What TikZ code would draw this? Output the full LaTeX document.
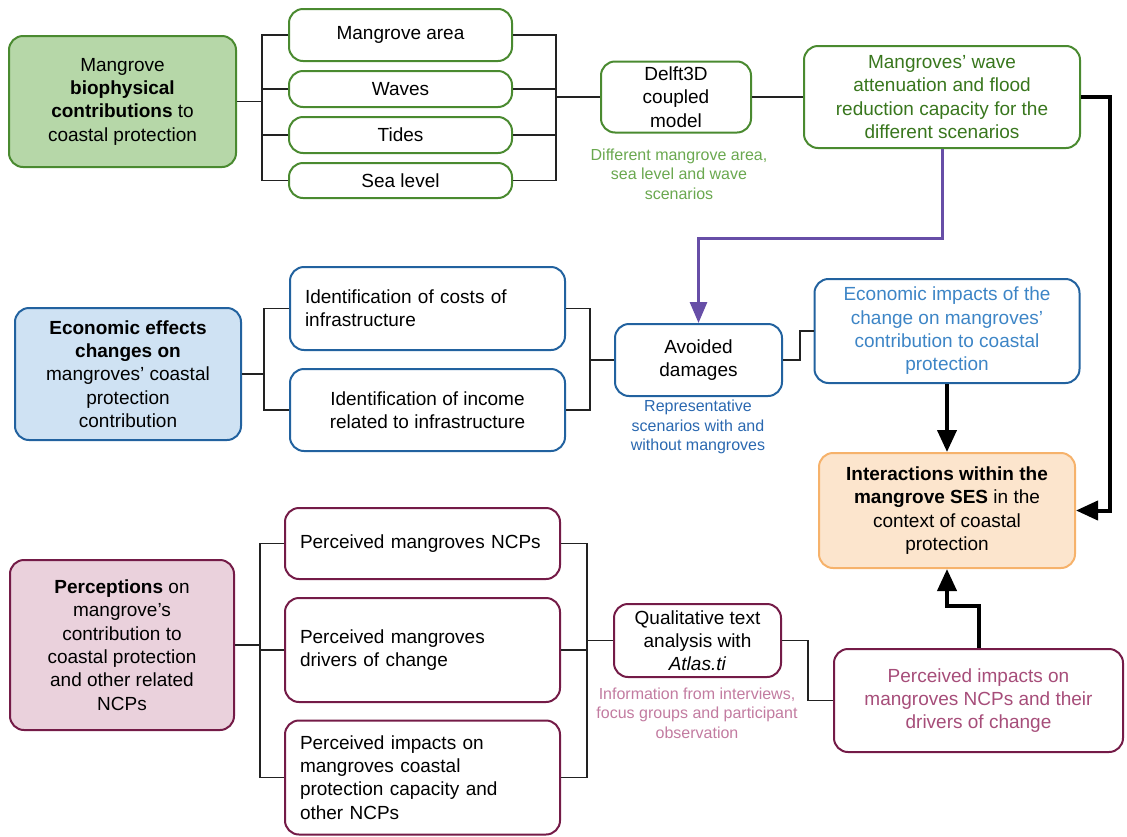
\documentclass[tikz,border=0pt]{standalone}
\usepackage{fontspec}
\setmainfont{Liberation Sans}
\usetikzlibrary{arrows.meta}
\definecolor{gstroke}{HTML}{4A8A30}
\definecolor{gfill}{HTML}{B6D7A8}
\definecolor{gtext}{HTML}{38761D}
\definecolor{glab}{HTML}{6AA84F}
\definecolor{bstroke}{HTML}{22629F}
\definecolor{bfill}{HTML}{CFE2F3}
\definecolor{btext}{HTML}{3D85C6}
\definecolor{blab}{HTML}{2A68B0}
\definecolor{pstroke}{HTML}{741B47}
\definecolor{pfill}{HTML}{EAD1DC}
\definecolor{ptext}{HTML}{A64D79}
\definecolor{plab}{HTML}{C27BA0}
\definecolor{ostroke}{HTML}{F6B26B}
\definecolor{ofill}{HTML}{FCE5CD}
\definecolor{purp}{HTML}{674EA7}
\definecolor{linec}{HTML}{222222}
\newcommand\fmain{\fontsize{19}{23.3}\selectfont}
\newcommand\flab{\fontsize{16}{19.5}\selectfont}
\begin{document}
\begin{tikzpicture}[x=1pt,y=-1pt,
  box/.style={draw, line width=2pt, rounded corners=14pt, inner sep=0pt, align=center, font=\fmain, text=black},
  gbox/.style={box, draw=gstroke},
  bbox/.style={box, draw=bstroke},
  pbox/.style={box, draw=pstroke},
  lbox/.style={align=left, text width=245pt, inner xsep=15pt, inner ysep=0pt},
  lab/.style={align=center, font=\flab, inner sep=0pt},
  conn/.style={draw=linec, line width=1.3pt},
  tarr/.style={draw=black, line width=4pt, -{Triangle[length=22pt,width=19pt]}},
  parr/.style={draw=purp, line width=3pt, -{Triangle[length=21pt,width=17pt]}}]
\useasboundingbox (0,0) rectangle (1127,836);

% ---------- Row 1 (green) ----------
\node[gbox, fill=gfill, minimum width=227, minimum height=131] (gA) at (122.5,101.5)
  {Mangrove\\\textbf{biophysical}\\\textbf{contributions} to\\coastal protection};
\node[gbox, minimum width=223, minimum height=52] (g1) at (400.5,35) {Mangrove area};
\node[gbox, minimum width=223, minimum height=36] (g2) at (400.5,89) {Waves};
\node[gbox, minimum width=223, minimum height=36] (g3) at (400.5,135) {Tides};
\node[gbox, minimum width=223, minimum height=35] (g4) at (400.5,180.5) {Sea level};
\node[gbox, minimum width=150, minimum height=71] (delft) at (676,97) {Delft3D\\coupled\\model};
\node[gbox, text=gtext, minimum width=276, minimum height=102] (wave) at (942,97)
  {Mangroves' wave\\attenuation and flood\\reduction capacity for the\\different scenarios};
\node[lab, text=glab] (glabel) at (679,174) {Different mangrove area,\\sea level and wave\\scenarios};

\coordinate (b1) at (262,0);
\coordinate (b2) at (556,0);
\draw[conn] (gA.east) -- (gA.east -| b1);
\draw[conn] (g1.west) -- (g1.west -| b1) -- (g4.west -| b1) -- (g4.west);
\draw[conn] (g2.west) -- (g2.west -| b1);
\draw[conn] (g3.west) -- (g3.west -| b1);
\draw[conn] (g1.east) -- (g1.east -| b2) -- (g4.east -| b2) -- (g4.east);
\draw[conn] (g2.east) -- (g2.east -| b2);
\draw[conn] (g3.east) -- (g3.east -| b2);
\draw[conn] (delft.west -| b2) -- (delft.west);
\draw[conn] (delft.east) -- (wave.west);

% ---------- Row 2 (blue) ----------
\node[bbox, fill=bfill, minimum width=226, minimum height=132] (bA) at (128,374)
  {\textbf{Economic effects}\\\textbf{changes on}\\mangroves' coastal\\protection\\contribution};
\node[bbox, lbox, minimum width=275, minimum height=83] (cost) at (427.5,308.5)
  {Identification of costs of\\infrastructure};
\node[bbox, minimum width=275, minimum height=82] (income) at (427.5,410)
  {Identification of income\\related to infrastructure};
\node[bbox, minimum width=167, minimum height=72] (avoid) at (698.5,360) {Avoided\\damages};
\node[lab, text=blab] (blabel) at (698,427) {Representative\\scenarios with and\\without mangroves};
\node[bbox, text=btext, minimum width=265, minimum height=104] (econ) at (947,331)
  {Economic impacts of the\\change on mangroves'\\contribution to coastal\\protection};
\node[box, draw=ostroke, fill=ofill, minimum width=256, minimum height=115] (ses) at (947,510.5)
  {\textbf{Interactions within the}\\\textbf{mangrove SES} in the\\context of coastal\\protection};

\coordinate (b4) at (264,0);
\coordinate (b5) at (590,0);
\draw[conn] (bA.east) -- (bA.east -| b4);
\draw[conn] (cost.west) -- (cost.west -| b4) -- (income.west -| b4) -- (income.west);
\draw[conn] (cost.east) -- (cost.east -| b5) -- (income.east -| b5) -- (income.east);
\draw[conn] (avoid.west -| b5) -- (avoid.west);
\draw[conn] (avoid.east) -- ++(17,0) |- (econ.west);
\draw[tarr] (econ.south) -- (ses.north);

% ---------- Row 3 (pink) ----------
\node[pbox, fill=pfill, minimum width=224, minimum height=170] (pA) at (122,645)
  {\textbf{Perceptions} on\\mangrove's\\contribution to\\coastal protection\\and other related\\NCPs};
\node[pbox, lbox, minimum width=275, minimum height=71] (ncp) at (422.5,543.5)
  {Perceived mangroves NCPs};
\node[pbox, lbox, minimum width=275, minimum height=104] (drv) at (422.5,650)
  {Perceived mangroves\\drivers of change};
\node[pbox, lbox, minimum width=275, minimum height=114] (imp) at (422.5,777.5)
  {Perceived impacts on\\mangroves coastal\\protection capacity and\\other NCPs};
\node[pbox, minimum width=167, minimum height=73] (qual) at (697.5,640.5)
  {Qualitative text\\analysis with\\\textit{Atlas.ti}};
\node[lab, text=plab] (plabel) at (697,713)
  {Information from interviews,\\focus groups and participant\\observation};
\node[pbox, text=ptext, minimum width=289, minimum height=103] (perc) at (978.5,700.5)
  {Perceived impacts on\\mangroves NCPs and their\\drivers of change};

\coordinate (b6) at (260,0);
\coordinate (b7) at (587,0);
\draw[conn] (pA.east) -- (pA.east -| b6);
\draw[conn] (ncp.west) -- (ncp.west -| b6) -- (imp.west -| b6) -- (imp.west);
\draw[conn] (drv.west) -- (drv.west -| b6);
\draw[conn] (ncp.east) -- (ncp.east -| b7) -- (imp.east -| b7) -- (imp.east);
\draw[conn] (drv.east) -- (drv.east -| b7);
\draw[conn] (qual.west -| b7) -- (qual.west);
\draw[conn] (qual.east) -- ++(26,0) |- (perc.west);

% ---------- Arrows into SES ----------
\coordinate (b3) at (1110,0);
\draw[tarr] (wave.east) -- (wave.east -| b3) |- (ses.east);
\draw[parr] (wave.south) -- ++(0,89) -| (avoid.north);
\draw[tarr] (perc.north) -- ++(0,-42) -| (ses.south);
\end{tikzpicture}
\end{document}
